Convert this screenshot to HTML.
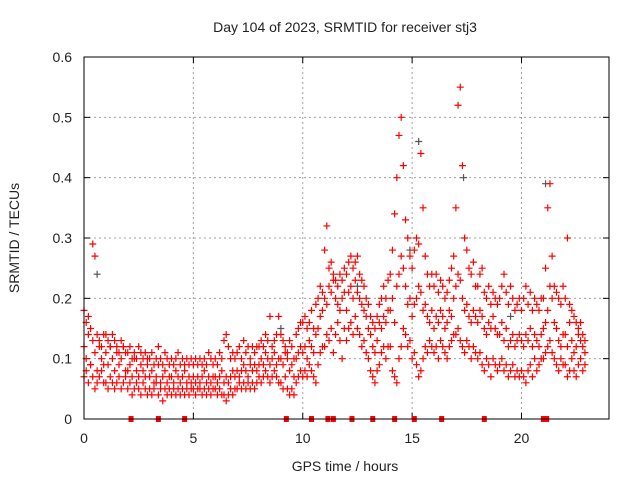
<!DOCTYPE html>
<html><head><meta charset="utf-8"><style>
body{margin:0;background:#fff}
svg text{font-family:"Liberation Sans",sans-serif;font-size:14px;fill:#222}
</style></head><body>
<svg id="c" width="640" height="480" xmlns="http://www.w3.org/2000/svg">
<text x="345" y="32" text-anchor="middle">Day 104 of 2023, SRMTID for receiver stj3</text>
<text x="345" y="471" text-anchor="middle">GPS time / hours</text>
<text transform="translate(19,238) rotate(-90)" text-anchor="middle">SRMTID / TECUs</text>
<g id="grid"></g><g id="axes"></g><g id="pts"></g>
<rect x="84" y="57" width="525" height="362" fill="none" stroke="#000" stroke-width="1"/>
</svg>
<script>
const xTicks=[0,5,10,15,20];
const yTicks=[0,0.1,0.2,0.3,0.4,0.5,0.6];
const yTickLabels=["0","0.1","0.2","0.3","0.4","0.5","0.6"];
const times=[0,0.1,0.2,0.3,0.4,0.5,0.6,0.7,0.8,0.9,1,1.1,1.2,1.3,1.4,1.5,1.6,1.7,1.8,1.9,2,2.1,2.2,2.3,2.4,2.5,2.6,2.7,2.8,2.9,3,3.1,3.2,3.3,3.4,3.5,3.6,3.7,3.8,3.9,4,4.1,4.2,4.3,4.4,4.5,4.6,4.7,4.8,4.9,5,5.1,5.2,5.3,5.4,5.5,5.6,5.7,5.8,5.9,6,6.1,6.2,6.3,6.4,6.5,6.6,6.7,6.8,6.9,7,7.1,7.2,7.3,7.4,7.5,7.6,7.7,7.8,7.9,8,8.1,8.2,8.3,8.4,8.5,8.6,8.7,8.8,8.9,9,9.1,9.2,9.3,9.4,9.5,9.6,9.7,9.8,9.9,10,10.1,10.2,10.3,10.4,10.5,10.6,10.7,10.8,10.9,11,11.1,11.2,11.3,11.4,11.5,11.6,11.7,11.8,11.9,12,12.1,12.2,12.3,12.4,12.5,12.6,12.7,12.8,12.9,13,13.1,13.2,13.3,13.4,13.5,13.6,13.7,13.8,13.9,14,14.1,14.2,14.3,14.4,14.5,14.6,14.7,14.8,14.9,15,15.1,15.2,15.3,15.4,15.5,15.6,15.7,15.8,15.9,16,16.1,16.2,16.3,16.4,16.5,16.6,16.7,16.8,16.9,17,17.1,17.2,17.3,17.4,17.5,17.6,17.7,17.8,17.9,18,18.1,18.2,18.3,18.4,18.5,18.6,18.7,18.8,18.9,19,19.1,19.2,19.3,19.4,19.5,19.6,19.7,19.8,19.9,20,20.1,20.2,20.3,20.4,20.5,20.6,20.7,20.8,20.9,21,21.1,21.2,21.3,21.4,21.5,21.6,21.7,21.8,21.9,22,22.1,22.2,22.3,22.4,22.5,22.6,22.7,22.8,22.9];
const valsA=[.12,.10,.14,.09,.13,.11,.08,.12,.10,.09,.11,.09,.12,.10,.08,.11,.09,.10,.12,.08,.08,.09,.07,.10,.08,.07,.09,.08,.07,.09,.07,.08,.06,.07,.09,.06,.07,.08,.06,.07,.07,.06,.08,.07,.06,.07,.08,.06,.07,.06,.07,.06,.07,.06,.07,.08,.06,.07,.06,.07,.07,.06,.07,.08,.06,.07,.06,.07,.08,.07,.08,.07,.08,.09,.08,.07,.09,.08,.09,.08,.09,.10,.09,.11,.10,.09,.10,.11,.09,.10,.10,.09,.11,.10,.08,.09,.07,.10,.11,.12,.11,.12,.10,.13,.12,.11,.14,.15,.17,.18,.20,.19,.22,.21,.23,.20,.19,.18,.20,.21,.18,.21,.22,.20,.23,.21,.20,.19,.18,.17,.15,.14,.12,.11,.13,.16,.15,.17,.16,.18,.18,.20,.16,.22,.24,.27,.25,.22,.19,.20,.17,.19,.20,.22,.21,.18,.19,.17,.16,.18,.15,.17,.16,.18,.17,.15,.16,.18,.17,.20,.22,.24,.23,.20,.18,.19,.17,.16,.18,.17,.16,.18,.17,.15,.14,.16,.15,.17,.15,.14,.14,.16,.13,.15,.12,.13,.14,.12,.13,.14,.13,.12,.14,.13,.15,.12,.14,.13,.12,.14,.15,.16,.18,.22,.20,.16,.15,.13,.12,.14,.14,.12,.16,.13,.11,.12,.14,.13,.12,.11];
const valsB=[.18,.16,.17,.15,.29,.27,.14,.13,.12,.14,.14,.13,.12,.14,.13,.12,.11,.13,.12,.11,.11,.12,.10,.11,.10,.12,.11,.10,.11,.10,.10,.11,.09,.10,.12,.10,.09,.11,.10,.09,.10,.09,.10,.11,.09,.10,.09,.10,.09,.10,.09,.10,.09,.10,.09,.10,.09,.11,.10,.09,.10,.09,.11,.10,.13,.14,.12,.10,.11,.10,.11,.12,.10,.13,.11,.12,.10,.12,.11,.12,.12,.13,.12,.14,.13,.17,.12,.13,.14,.17,.14,.13,.12,.11,.13,.12,.10,.14,.15,.16,.16,.17,.15,.16,.18,.15,.19,.20,.22,.21,.28,.32,.25,.26,.24,.23,.22,.24,.23,.25,.24,.26,.27,.25,.26,.27,.24,.23,.22,.20,.19,.17,.16,.15,.17,.19,.20,.22,.20,.23,.24,.28,.34,.40,.47,.50,.42,.33,.30,.27,.25,.28,.30,.29,.44,.35,.27,.24,.22,.24,.22,.24,.21,.23,.22,.20,.21,.23,.25,.27,.35,.52,.55,.42,.30,.28,.25,.24,.26,.22,.22,.24,.25,.21,.20,.22,.19,.21,.20,.19,.20,.22,.24,.21,.19,.22,.20,.18,.19,.20,.18,.20,.22,.19,.21,.18,.20,.19,.18,.20,.20,.25,.35,.39,.27,.22,.21,.20,.19,.22,.20,.30,.19,.18,.17,.16,.15,.16,.14,.13];
const valsC=[.07,.08,.06,.09,.07,.05,.06,.07,.08,.06,.06,.05,.07,.06,.05,.06,.07,.05,.06,.07,.05,.06,.04,.05,.06,.05,.04,.06,.05,.04,.05,.04,.05,.06,.04,.05,.03,.05,.04,.05,.04,.05,.04,.05,.04,.05,.04,.05,.04,.05,.05,.04,.05,.05,.04,.05,.04,.05,.04,.05,.05,.04,.05,.04,.04,.03,.04,.05,.04,.05,.05,.06,.05,.06,.05,.06,.05,.06,.05,.06,.07,.06,.07,.08,.07,.06,.07,.08,.07,.06,.06,.05,.07,.05,.04,.05,.04,.06,.07,.08,.07,.08,.07,.09,.08,.07,.06,.09,.11,.12,.12,.14,.13,.15,.11,.14,.16,.13,.10,.15,.13,.15,.16,.14,.17,.15,.14,.12,.13,.11,.10,.08,.07,.06,.08,.09,.11,.12,.10,.12,.12,.08,.07,.06,.10,.12,.15,.14,.12,.13,.10,.11,.09,.07,.08,.10,.12,.11,.13,.12,.11,.12,.10,.13,.12,.11,.10,.12,.13,.14,.14,.15,.13,.12,.11,.13,.12,.10,.12,.11,.10,.11,.09,.08,.10,.09,.07,.10,.09,.08,.09,.10,.08,.09,.07,.08,.09,.07,.08,.07,.08,.07,.06,.08,.09,.07,.10,.08,.09,.10,.10,.11,.12,.13,.11,.10,.09,.08,.10,.09,.09,.07,.08,.10,.08,.07,.09,.10,.08,.09];
const greyTimes=[0.6,14.9,15.3,17.35,21.1,9.0,12.5,19.5];
const greyVals=[.24,.28,.46,.40,.39,.15,.22,.17];
const zeroTimes=[2.15,3.4,4.6,9.25,10.4,11.15,11.4,12.25,13.2,14.2,15.1,16.35,18.3,21.0,21.15];

const NS="http://www.w3.org/2000/svg";
const X0=84,X1=609,Y0=419,Y1=57;
function xs(t){return X0+(t/24)*(X1-X0);}
function ys(v){return Y0-(v/0.6)*(Y0-Y1);}
function mk(tag,attrs,parent){const e=document.createElementNS(NS,tag);for(const k in attrs)e.setAttribute(k,attrs[k]);parent.appendChild(e);return e;}
const grid=document.getElementById('grid'),axes=document.getElementById('axes'),pts=document.getElementById('pts');
xTicks.forEach(t=>{
  const x=xs(t);
  if(t>0){const g=mk('line',{x1:x,x2:x,y1:Y1,y2:Y0,stroke:'#a0a0a0','stroke-dasharray':'2,3'},grid);
  
  }
  mk('line',{x1:x,x2:x,y1:Y0,y2:Y0-6,stroke:'#000'},axes);
  mk('line',{x1:x,x2:x,y1:Y1,y2:Y1+6,stroke:'#000'},axes);
  const l=mk('text',{x:x,y:Y0+24,'text-anchor':'middle'},axes);l.textContent=t;
  
  
});
yTicks.forEach((v,i)=>{
  const y=ys(v);
  if(i>0&&i<yTicks.length-1){const g=mk('line',{x1:X0,x2:X1,y1:y,y2:y,stroke:'#a0a0a0','stroke-dasharray':'2,3'},grid);
  
  }
  mk('line',{x1:X0,x2:X0+6,y1:y,y2:y,stroke:'#000'},axes);
  mk('line',{x1:X1,x2:X1-6,y1:y,y2:y,stroke:'#000'},axes);
  const l=mk('text',{x:X0-12,y:y+5,'text-anchor':'end'},axes);l.textContent=yTickLabels[i];
  
  
});
function plus(t,v,col,name){
  const x=xs(t),y=ys(v);
  const p=mk('path',{d:`M${x-3.5},${y}h7M${x},${y-3.5}v7`,stroke:col,'stroke-width':1.2,fill:'none'},pts);
  
  
}
greyTimes.forEach((t,i)=>plus(t,greyVals[i],'#555','grey-point'));
times.forEach((t,i)=>{plus(t,valsA[i],'#f00','red-point');plus(t,valsB[i],'#f00','red-point');plus(t,valsC[i],'#f00','red-point');});
zeroTimes.forEach(t=>{const r=mk('rect',{x:xs(t)-2.5,y:Y0-3,width:5,height:6,fill:'#f00'},pts);
  
  });
</script>
</body></html>
